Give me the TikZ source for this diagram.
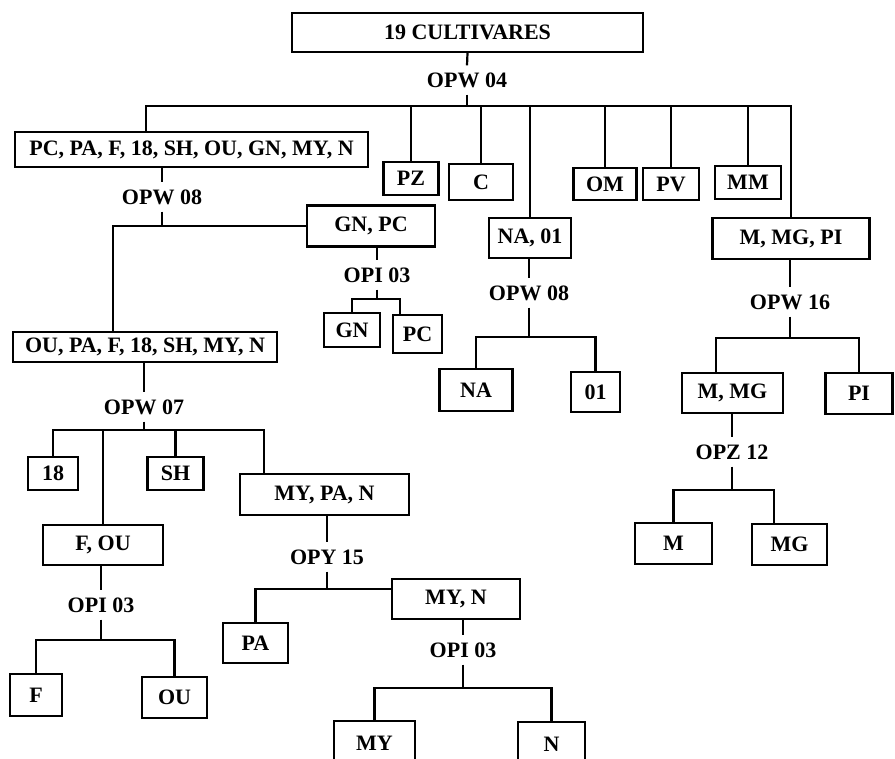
\documentclass[tikz,border=0pt]{standalone}
\usepackage{fontspec}
\setmainfont{Liberation Serif}

\begin{document}
\begin{tikzpicture}[x=1pt, y=-1pt,
	caixa/.style={draw, line width=2.2pt, inner sep=0pt, font=\bfseries\fontsize{22}{24}\selectfont},
	rotulo/.style={inner sep=7pt, font=\bfseries\fontsize{22}{24}\selectfont},
	liga/.style={line width=2.2pt}]
	\path[use as bounding box, clip] (0,0) rectangle (895,759);

	% boxes
	\node[caixa, minimum width=351pt, minimum height=39pt] (R) at (467.5,32.5) {19 CULTIVARES};
	\node[caixa, minimum width=353pt, minimum height=35pt] (G1) at (191.5,149.5) {PC, PA, F, 18, SH, OU, GN, MY, N};
	\node[caixa, minimum width=55pt, minimum height=33pt] (PZ) at (411,178.5) {PZ};
	\node[caixa, minimum width=64pt, minimum height=36pt] (C) at (481,182) {C};
	\node[caixa, minimum width=82pt, minimum height=40pt] (NA01) at (530,238) {NA, 01};
	\node[caixa, minimum width=63pt, minimum height=32pt] (OM) at (605,184) {OM};
	\node[caixa, minimum width=56pt, minimum height=32pt] (PV) at (671,184) {PV};
	\node[caixa, minimum width=66pt, minimum height=33pt] (MM) at (748,182.5) {MM};
	\node[caixa, minimum width=157pt, minimum height=41pt] (MMGPI) at (791,238.5) {M, MG, PI};

	\node[caixa, minimum width=128pt, minimum height=41pt] (GNPC) at (371,226) {GN, PC};
	\node[caixa, minimum width=56pt, minimum height=34pt] (GN) at (352,330) {GN};
	\node[caixa, minimum width=49pt, minimum height=38pt] (PC) at (417.5,334) {PC};
	\node[caixa, minimum width=264pt, minimum height=30pt] (G2) at (145,347) {OU, PA, F, 18, SH, MY, N};

	\node[caixa, minimum width=50pt, minimum height=33pt] (N18) at (53,473.5) {18};
	\node[caixa, minimum width=56pt, minimum height=33pt] (SH) at (175.5,473.5) {SH};
	\node[caixa, minimum width=120pt, minimum height=40pt] (FOU) at (103,545) {F, OU};
	\node[caixa, minimum width=169pt, minimum height=41pt] (MYPAN) at (324.5,494.5) {MY, PA, N};
	\node[caixa, minimum width=52pt, minimum height=42pt] (F) at (36,695) {F};
	\node[caixa, minimum width=65pt, minimum height=41pt] (OU) at (174.5,697.5) {OU};
	\node[caixa, minimum width=65pt, minimum height=40pt] (PA) at (255.5,643) {PA};
	\node[caixa, minimum width=128pt, minimum height=40pt] (MYN) at (456,599) {MY, N};
	\node[caixa, minimum width=81pt, minimum height=44pt] (MY) at (374.5,743) {MY};
	\node[caixa, minimum width=67pt, minimum height=44pt] (N) at (551.5,744) {N};

	\node[caixa, minimum width=73pt, minimum height=42pt] (NA) at (476,390) {NA};
	\node[caixa, minimum width=49pt, minimum height=40pt] (N01) at (595.5,392) {01};
	\node[caixa, minimum width=101pt, minimum height=40pt] (MMG) at (732.5,393) {M, MG};
	\node[caixa, minimum width=67pt, minimum height=41pt] (PI) at (859,393.5) {PI};
	\node[caixa, minimum width=77pt, minimum height=41pt] (M) at (673.5,543.5) {M};
	\node[caixa, minimum width=75pt, minimum height=41pt] (MG) at (789.5,544.5) {MG};

	% primer labels
	\node[rotulo] (L1) at (467,80) {OPW 04};
	\node[rotulo] (L2) at (162,197) {OPW 08};
	\node[rotulo] (L3) at (377,275) {OPI 03};
	\node[rotulo] (L4) at (144,407) {OPW 07};
	\node[rotulo] (L5) at (101,605) {OPI 03};
	\node[rotulo] (L6) at (327,557) {OPY 15};
	\node[rotulo] (L7) at (463,650) {OPI 03};
	\node[rotulo] (L8) at (529,293) {OPW 08};
	\node[rotulo] (L9) at (790,302) {OPW 16};
	\node[rotulo] (L10) at (732,452) {OPZ 12};

	% bars
	\coordinate (B1) at (146,106); % bar 1, left end
	\coordinate (B2) at (113,226); % bar 2, left end
	\coordinate (B3) at (400,299); % bar 3, right end
	\coordinate (B4) at (264,430); % bar 4, right end
	\coordinate (B5) at (101,640); % bar 5
	\coordinate (B6) at (327,589); % bar 6
	\coordinate (B7) at (463,688); % bar 7
	\coordinate (B8) at (529,337); % bar 8
	\coordinate (B9) at (716,338); % bar 9, left end
	\coordinate (B10) at (774,490); % bar 10, right end

	% OPW 04
	\draw[liga] (R.south) -- (L1.north);
	\draw[liga] (L1.south) -- (L1.south |- B1);
	\draw[liga] (B1 |- G1.north) -- (B1) -- (MMGPI.north |- B1) -- (MMGPI.north);
	\foreach \n in {PZ,C,NA01,OM,PV,MM}
		\draw[liga] (\n.north) -- (\n.north |- B1);

	% OPW 08
	\draw[liga] (G1.south -| L2) -- (L2.north);
	\draw[liga] (L2.south) -- (L2.south |- B2);
	\draw[liga] (G2.north -| B2) -- (B2) -- (GNPC.west);

	% OPI 03
	\draw[liga] (GNPC.south -| L3) -- (L3.north);
	\draw[liga] (L3.south) -- (L3.south |- B3);
	\draw[liga] (GN.north) -- (GN.north |- B3) -- (B3) -- (B3 |- PC.north);

	% OPW 07
	\draw[liga] (G2.south -| L4) -- (L4.north);
	\draw[liga] (L4.south) -- (L4.south |- B4);
	\draw[liga] (N18.north) -- (N18.north |- B4) -- (B4) -- (B4 |- MYPAN.north);
	\draw[liga] (FOU.north) -- (FOU.north |- B4);
	\draw[liga] (SH.north) -- (SH.north |- B4);

	% OPI 03
	\draw[liga] (FOU.south -| L5) -- (L5.north);
	\draw[liga] (L5.south) -- (B5);
	\draw[liga] (F.north) -- (F.north |- B5) -- (OU.north |- B5) -- (OU.north);

	% OPY 15
	\draw[liga] (MYPAN.south -| L6) -- (L6.north);
	\draw[liga] (L6.south) -- (B6);
	\draw[liga] (PA.north) -- (PA.north |- B6) -- (MYN.west |- B6);

	% OPI 03
	\draw[liga] (MYN.south -| L7) -- (L7.north);
	\draw[liga] (L7.south) -- (B7);
	\draw[liga] (MY.north) -- (MY.north |- B7) -- (N.north |- B7) -- (N.north);

	% OPW 08
	\draw[liga] (NA01.south -| L8) -- (L8.north);
	\draw[liga] (L8.south) -- (B8);
	\draw[liga] (NA.north) -- (NA.north |- B8) -- (N01.north |- B8) -- (N01.north);

	% OPW 16
	\draw[liga] (MMGPI.south -| L9) -- (L9.north);
	\draw[liga] (L9.south) -- (L9.south |- B9);
	\draw[liga] (B9 |- MMG.north) -- (B9) -- (PI.north |- B9) -- (PI.north);

	% OPZ 12
	\draw[liga] (MMG.south -| L10) -- (L10.north);
	\draw[liga] (L10.south) -- (L10.south |- B10);
	\draw[liga] (M.north) -- (M.north |- B10) -- (B10) -- (B10 |- MG.north);
\end{tikzpicture}
\end{document}
